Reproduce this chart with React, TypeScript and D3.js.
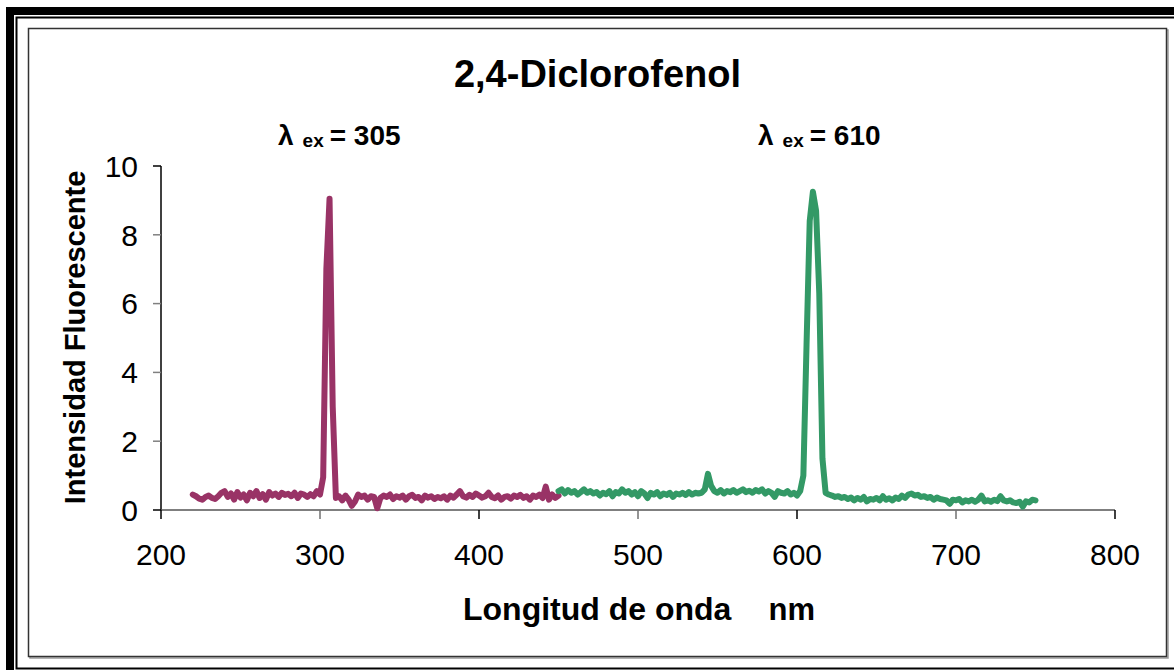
import React from "react";
import * as d3 from "d3";

// ---- data ----
const TITLE = "2,4-Diclorofenol";
const X_TICKS = [200, 300, 400, 500, 600, 700, 800];
const Y_TICKS = [0, 2, 4, 6, 8, 10];

// excitation 305 nm series, every 2 nm from 220 nm
const EX305_START = 220;
const EX305_STEP = 2;
const EX305_VALUES = [
  0.45, 0.4, 0.33, 0.3, 0.38, 0.42, 0.35, 0.32, 0.4, 0.5,
  0.55, 0.38, 0.48, 0.3, 0.52, 0.36, 0.45, 0.28, 0.5, 0.4,
  0.55, 0.35, 0.46, 0.3, 0.52, 0.42, 0.48, 0.38, 0.5, 0.44,
  0.47, 0.4, 0.5, 0.35, 0.48, 0.45, 0.38, 0.46, 0.4, 0.55,
  0.45,
  0.95, 7.0, 9.05, 3.0,
  0.35, 0.4, 0.28, 0.42, 0.3, 0.12, 0.25, 0.45, 0.38, 0.42,
  0.3, 0.4, 0.38, 0.05, 0.35, 0.42, 0.38, 0.45, 0.32, 0.4,
  0.36, 0.42, 0.3, 0.4, 0.44, 0.35, 0.38, 0.28, 0.42, 0.36,
  0.4, 0.32, 0.38, 0.34, 0.4, 0.3, 0.42, 0.36, 0.45, 0.55,
  0.4, 0.36, 0.44, 0.38, 0.48, 0.42, 0.36, 0.4, 0.5, 0.38,
  0.34, 0.42, 0.3, 0.38, 0.4, 0.33, 0.42, 0.38, 0.44, 0.35,
  0.4, 0.3, 0.42, 0.38, 0.45, 0.35, 0.68, 0.3, 0.45, 0.35,
  0.42,
];

// excitation 610 nm series, every 2 nm from 450 nm
const EX610_START = 450;
const EX610_STEP = 2;
const EX610_VALUES = [
  0.55, 0.6, 0.48, 0.58, 0.5, 0.55, 0.45, 0.52, 0.6, 0.5,
  0.55, 0.48, 0.52, 0.42, 0.5, 0.46, 0.55, 0.4, 0.52, 0.48,
  0.6, 0.5, 0.55, 0.45, 0.52, 0.4, 0.55, 0.48, 0.35, 0.5,
  0.45, 0.52, 0.4, 0.48, 0.44, 0.5, 0.38, 0.48, 0.45, 0.5,
  0.44, 0.52, 0.45, 0.5, 0.48, 0.5, 0.6, 1.05, 0.7, 0.55,
  0.5, 0.58, 0.48, 0.55, 0.52, 0.58, 0.5, 0.55, 0.6, 0.52,
  0.56, 0.5, 0.58, 0.54, 0.6, 0.48, 0.55, 0.5, 0.38, 0.55,
  0.5, 0.48, 0.55, 0.45, 0.5, 0.42, 0.55,
  1.0, 4.8, 8.4, 9.25, 8.7, 6.3, 1.5, 0.5,
  0.45, 0.42, 0.38, 0.4, 0.35, 0.38, 0.32, 0.36, 0.28, 0.35,
  0.3, 0.38, 0.25, 0.32, 0.3, 0.35, 0.28, 0.4, 0.3, 0.34,
  0.28, 0.36, 0.32, 0.42, 0.35, 0.45, 0.48, 0.42, 0.44, 0.38,
  0.4, 0.35, 0.38, 0.3, 0.36, 0.32, 0.3, 0.28, 0.18, 0.3,
  0.28, 0.32, 0.22, 0.28, 0.25, 0.3, 0.24, 0.3, 0.42, 0.25,
  0.28, 0.24, 0.3, 0.26, 0.4, 0.28, 0.25, 0.28, 0.22, 0.2,
  0.24, 0.1, 0.25, 0.22, 0.3, 0.28,
];

const ANNOTATIONS = ["305", "610"];

const W = 1174;
const H = 670;
const FONT = "'Liberation Sans', Arial, Helvetica, sans-serif";

function toPoints(start: number, step: number, values: number[]) {
  return values.map((v, i) => ({ x: start + i * step, y: v }));
}

export default function App() {
  const x = d3.scaleLinear().domain([200, 800]).range([161, 1115]);
  const y = d3.scaleLinear().domain([0, 10]).range([510, 166]);

  const line = d3
    .line<{ x: number; y: number }>()
    .x((d) => x(d.x))
    .y((d) => y(d.y));

  const s1 = toPoints(EX305_START, EX305_STEP, EX305_VALUES);
  const s2 = toPoints(EX610_START, EX610_STEP, EX610_VALUES);

  const annX = [278, 758];

  return (
    <svg
      width={W}
      height={H}
      style={{ position: "absolute", left: 0, top: 0, background: "#fff" }}
      fontFamily={FONT}
    >
      <rect x={0} y={0} width={W} height={H} fill="#fff" />
      {/* outer thick frame */}
      <rect x={10} y={11} width={1300} height={800} fill="none" stroke="#000" strokeWidth={8} />
      {/* thin frame */}
      <rect x={16.5} y={17.5} width={1300} height={651} fill="none" stroke="#000" strokeWidth={2} />
      {/* chart area frame with shadow */}
      <rect x={30} y={30} width={1138} height={628} fill="none" stroke="#9a9a9a" strokeWidth={1.5} />
      <rect x={28.5} y={28.5} width={1138} height={628} fill="#fff" stroke="#333" strokeWidth={1.5} />

      {/* title */}
      <text x={597.5} y={87} textAnchor="middle" fontSize={38} fontWeight="bold" fill="#000">
        {TITLE}
      </text>

      {/* annotations */}
      {ANNOTATIONS.map((a, i) => (
        <text key={a} x={annX[i]} y={145} fontWeight="bold" fill="#000" fontSize={28}>
          <tspan>λ</tspan>
          <tspan fontSize={19} dx={9} dy={2}>ex</tspan>
          <tspan dx={6} dy={-2}>= {a}</tspan>
        </text>
      ))}

      {/* y axis */}
      <line x1={161} x2={161} y1={y(10)} y2={y(0)} stroke="#000" strokeWidth={1.5} />
      {Y_TICKS.map((t) => (
        <g key={t}>
          <line x1={153} x2={161} y1={y(t)} y2={y(t)} stroke={t === 0 || t === 10 ? "#000" : "#808080"} strokeWidth={1.5} />
          <text x={138} y={y(t)} dy="0.36em" textAnchor="end" fontSize={30} fill="#000">
            {t}
          </text>
        </g>
      ))}

      {/* x axis */}
      <line x1={x(200)} x2={x(800)} y1={510} y2={510} stroke="#555" strokeWidth={1.5} />
      {X_TICKS.map((t) => (
        <g key={t}>
          <line x1={x(t)} x2={x(t)} y1={510} y2={519} stroke={t % 200 === 0 ? "#000" : "#707070"} strokeWidth={1.5} />
          <text x={x(t)} y={565} textAnchor="middle" fontSize={30} fill="#000">
            {t}
          </text>
        </g>
      ))}

      {/* axis titles */}
      <text x={463} y={620} fontSize={32} fontWeight="bold" fill="#000">
        Longitud de onda
      </text>
      <text x={815} y={620} textAnchor="end" fontSize={31} fontWeight="bold" fill="#000">
        nm
      </text>
      <text
        transform={`translate(85, 337.5) rotate(-90)`}
        textAnchor="middle"
        fontSize={29}
        fontWeight="bold"
        fill="#000"
      >
        Intensidad Fluorescente
      </text>

      {/* series */}
      <path d={line(s1) || ""} fill="none" stroke="#993366" strokeWidth={6} strokeLinejoin="round" strokeLinecap="round" />
      <path d={line(s2) || ""} fill="none" stroke="#339966" strokeWidth={6} strokeLinejoin="round" strokeLinecap="round" />
    </svg>
  );
}
